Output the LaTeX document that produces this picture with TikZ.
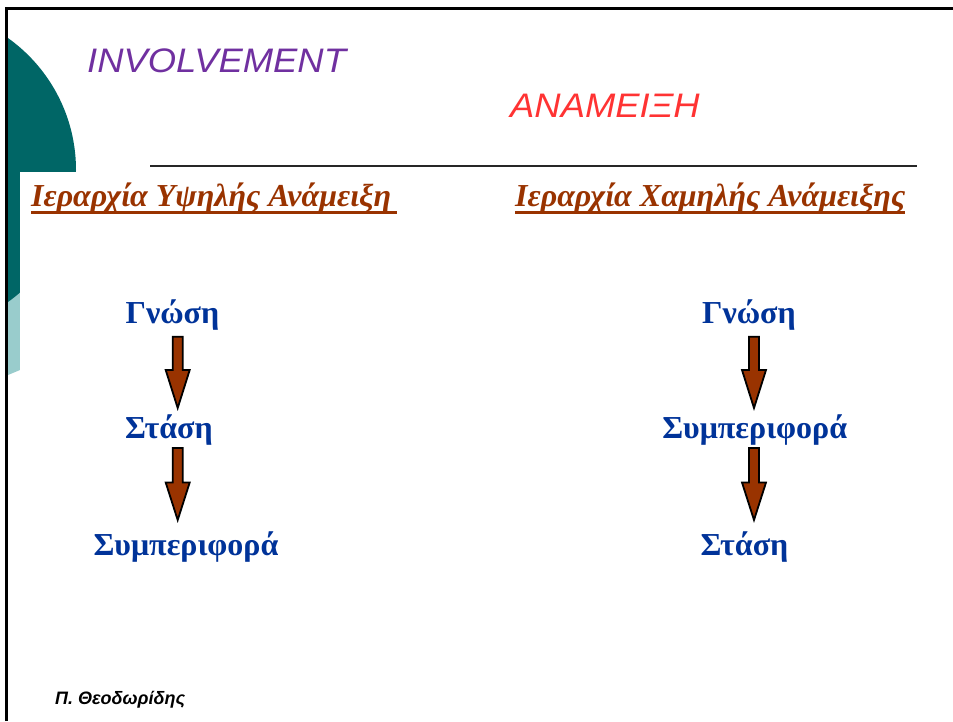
\documentclass[tikz,border=0pt]{standalone}
\usepackage{fontspec}
\setmainfont{Liberation Serif}
\setsansfont{Liberation Sans}
\definecolor{tealdark}{RGB}{0,102,102}
\definecolor{teallight}{RGB}{153,204,204}
\definecolor{titlepurple}{RGB}{112,48,160}
\definecolor{titlered}{RGB}{255,51,51}
\definecolor{headbrown}{RGB}{153,51,0}
\definecolor{labelblue}{RGB}{0,51,153}
\tikzset{
  titletext/.style={anchor=base west, inner sep=0pt, xscale=1.07, font=\sffamily\itshape\fontsize{34}{40}\selectfont},
  headtext/.style={anchor=base west, inner sep=0pt, text=headbrown, font=\bfseries\itshape\fontsize{32}{38}\selectfont},
  headline/.style={draw=headbrown, line width=3.2pt},
  stage/.style={anchor=base, inner sep=0pt, text=labelblue, font=\bfseries\fontsize{32}{38}\selectfont},
  flowarrow/.style={fill=headbrown, draw=black, line width=1.8pt, line join=miter},
  frameline/.style={draw=black, line width=3pt},
}
% block arrow pointing down: centre x, top of shaft, start of head, tip
\newcommand\downblock[4]{%
  \draw[flowarrow] (#1-5,#2) -- (#1+5,#2) -- (#1+5,#3) -- (#1+12,#3) -- (#1,#4)
    -- (#1-12,#3) -- (#1-5,#3) -- cycle;}
\begin{document}
\begin{tikzpicture}[x=1pt,y=-1pt]
\useasboundingbox (0,0) rectangle (953,721);
\fill[white] (0,0) rectangle (953,721);

% decorative teal discs at the left edge
\begin{scope}
  \clip (8,8) rectangle (953,721);
  \fill[teallight] (8,280) -- (20,280) -- (20,370) -- (8,375) -- cycle;
  \fill[tealdark] (-86,170) circle (162);
\end{scope}
\fill[white] (20,172) rectangle (953,721);

% frame
\draw[frameline] (6.5,721) -- (6.5,8) -- (953,8);

% titles
\node[titletext, text=titlepurple] (inv) at (87,72) {INVOLVEMENT};
\node[titletext, text=titlered] (anam) at (510,117) {ΑΝΑΜΕΙΞΗ};
\draw[draw=black!85, line width=1.3pt] (150,166) coordinate (ruleL) -- (917,166) coordinate (ruleR);

% column headings
\node[headtext] (hhigh) at (31,206) {Ιεραρχία Υψηλής Ανάμειξη\hspace*{6pt}};
\node[headtext] (hlow) at (515,206) {Ιεραρχία Χαμηλής Ανάμειξης};
\draw[headline] ([yshift=-6.5pt]hhigh.base west) -- ([yshift=-6.5pt]hhigh.base east);
\draw[headline] ([yshift=-6.5pt]hlow.base west) -- ([yshift=-6.5pt]hlow.base east);

% high involvement hierarchy
\node[stage] (h1) at (172.5,323) {Γνώση};
\node[stage] (h2) at (169,438) {Στάση};
\node[stage] (h3) at (186,555) {Συμπεριφορά};
\downblock{177.7}{336.7}{370}{408}
\downblock{177.7}{448}{482.5}{520}

% low involvement hierarchy
\node[stage] (l1) at (749,323) {Γνώση};
\node[stage] (l2) at (754.7,438) {Συμπεριφορά};
\node[stage] (l3) at (744.5,555) {Στάση};
\downblock{754}{336.7}{370}{408}
\downblock{754}{448}{482.5}{520}

% author
\node[anchor=base west, inner sep=0pt, font=\sffamily\bfseries\itshape\fontsize{18}{21}\selectfont] (author) at (55,704) {Π. Θεοδωρίδης};
\end{tikzpicture}
\end{document}
